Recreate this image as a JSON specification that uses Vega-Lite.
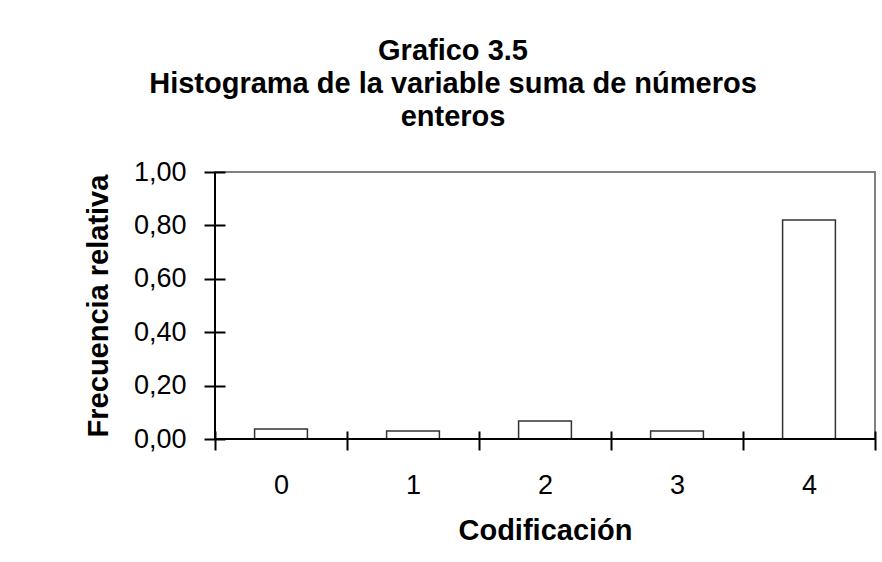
{
  "$schema": "https://vega.github.io/schema/vega-lite/v6.json",
  "autosize": "none",
  "width": 660,
  "height": 267,
  "padding": {"left": 215, "top": 172, "right": 7, "bottom": 123},
  "background": "white",
  "title": {
    "text": ["Grafico 3.5", "Histograma de la variable suma de números", "enteros"],
    "font": "Liberation Sans",
    "fontSize": 29,
    "fontWeight": "bold",
    "color": "black",
    "lineHeight": 33,
    "anchor": "middle",
    "frame": "group",
    "dx": -92,
    "offset": 26
  },
  "config": {
    "view": {"stroke": "#808080", "strokeWidth": 2},
    "axis": {
      "domain": false,
      "tickColor": "black",
      "tickWidth": 2,
      "grid": false,
      "labelFont": "Liberation Sans",
      "labelFontSize": 27,
      "labelColor": "black",
      "titleFont": "Liberation Sans",
      "titleFontSize": 29,
      "titleFontWeight": "bold",
      "titleColor": "black"
    }
  },
  "data": {
    "values": [
      {"cod": "0", "freq": 0.037},
      {"cod": "1", "freq": 0.03},
      {"cod": "2", "freq": 0.067},
      {"cod": "3", "freq": 0.03},
      {"cod": "4", "freq": 0.82}
    ]
  },
  "layer": [
    {
      "mark": {"type": "bar", "fill": "white", "stroke": "#333333", "strokeWidth": 1.5, "width": {"band": 0.4}},
      "encoding": {
        "x": {
          "field": "cod",
          "type": "ordinal",
          "scale": {"paddingInner": 0, "paddingOuter": 0},
          "axis": {
            "orient": "bottom",
            "title": "Codificación",
            "labelAngle": 0,
            "tickBand": "extent",
            "tickSize": 19,
            "offset": -8,
            "labelPadding": 22,
            "titlePadding": 18
          }
        },
        "y": {
          "field": "freq",
          "type": "quantitative",
          "scale": {"domain": [0, 1], "nice": false},
          "axis": {
            "orient": "left",
            "title": "Frecuencia relativa",
            "values": [0, 0.2, 0.4, 0.6, 0.8, 1],
            "labelExpr": "replace(format(datum.value, '.2f'), '.', ',')",
            "tickSize": 21,
            "offset": -10,
            "labelPadding": 18,
            "titlePadding": 20
          }
        }
      }
    },
    {
      "mark": {"type": "rule", "color": "black", "strokeWidth": 2},
      "encoding": {
        "y": {"datum": 0, "type": "quantitative"}
      }
    },
    {
      "mark": {"type": "rule", "color": "black", "strokeWidth": 2},
      "encoding": {
        "x": {"datum": "0", "type": "ordinal", "bandPosition": 0},
        "y": {"datum": 0, "type": "quantitative"},
        "y2": {"datum": 1}
      }
    }
  ]
}
